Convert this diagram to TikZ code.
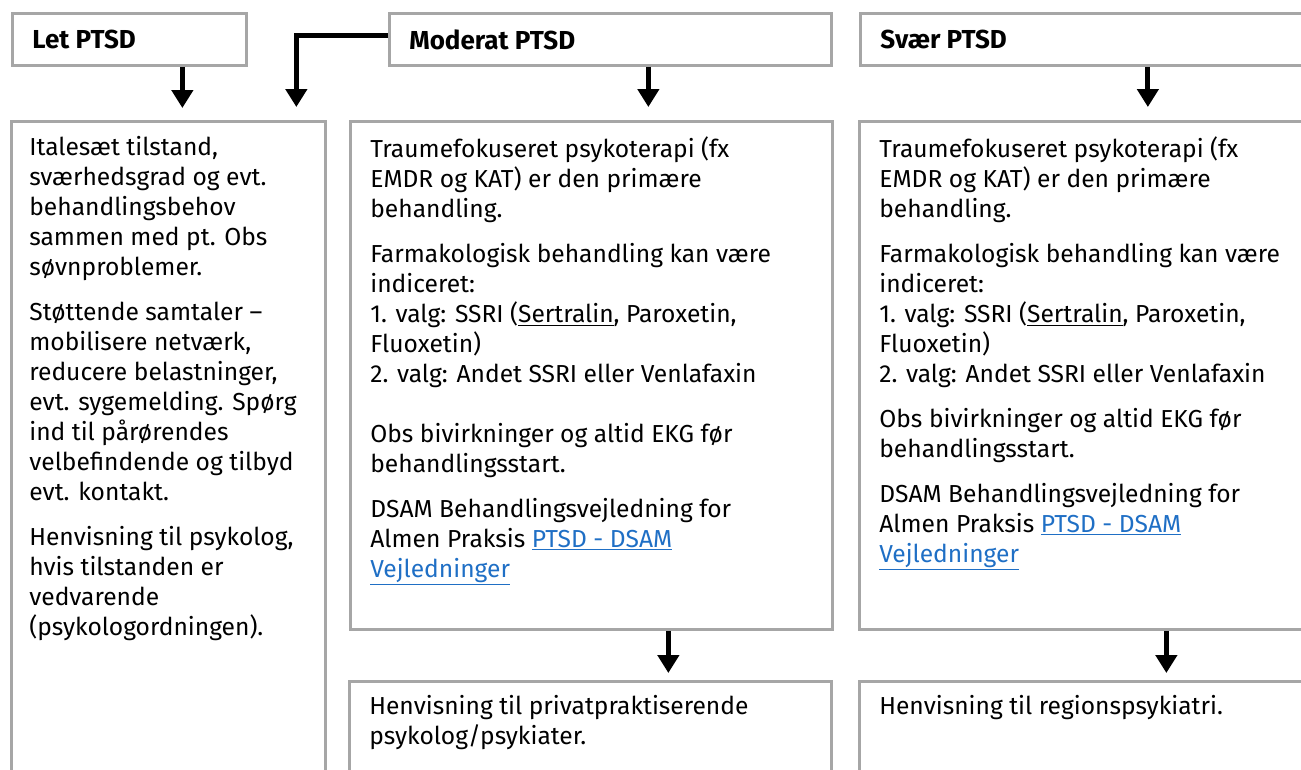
\documentclass[tikz,border=0pt]{standalone}
\usepackage{fontspec}
\setmainfont{Fira Sans}
\usetikzlibrary{arrows.meta,positioning}
\definecolor{frame}{HTML}{A6A6A6}
\definecolor{weblink}{HTML}{1F6FC5}
\newcommand{\px}{0.02cm}
\newcommand{\bodysize}{\fontsize{14}{17.07}\selectfont}
\newcommand{\headsize}{\fontsize{14.8}{17.07}\selectfont\bfseries}
\newcommand{\weblinktxt}[1]{\textcolor{weblink}{\underline{#1}}}
\tikzset{
  >={Triangle[length=3.6mm,width=4.2mm]},
  flow/.style={->,line width=1mm,draw=black},
  box/.style={draw=frame,line width=0.55mm,anchor=north west,inner sep=0pt},
  headtxt/.style={inner sep=0pt,font=\headsize},
  bodytxt/.style={inner sep=0pt,align=left,font=\bodysize}
}
\begin{document}
\begin{tikzpicture}[x=\px,y=-\px]
  \path[use as bounding box,clip] (0,0) rectangle (1301,769);
  % top row
  \node[box,minimum width=234*\px,minimum height=52*\px] (let) at (11,12) {};
  \node[box,minimum width=442*\px,minimum height=52*\px] (mod) at (388,12) {};
  \node[box,minimum width=452*\px,minimum height=52*\px] (svr) at (859,12) {};
  \node[headtxt,right=21*\px of let.west] (letT) {Let PTSD};
  \node[headtxt,right=21*\px of mod.west] (modT) {Moderat PTSD};
  \node[headtxt,right=21*\px of svr.west] (svrT) {Svær PTSD};
  % middle row
  \node[box,minimum width=314*\px,minimum height=680*\px] (b1) at (10,120) {};
  \node[box,minimum width=482*\px,minimum height=508*\px] (b2) at (349,120) {};
  \node[box,minimum width=452*\px,minimum height=508*\px] (b3) at (858,120) {};
  \node[bodytxt,below right=16*\px and 19*\px of b1.north west] (b1T) {%
    Italesæt tilstand,\\
    sværhedsgrad og evt.\\
    behandlingsbehov\\
    sammen med pt. Obs\\
    søvnproblemer.\\[0.3cm]
    Støttende samtaler –\\
    mobilisere netværk,\\
    reducere belastninger,\\
    evt. sygemelding. Spørg\\
    ind til pårørendes\\
    velbefindende og tilbyd\\
    evt. kontakt.\\[0.3cm]
    Henvisning til psykolog,\\
    hvis tilstanden er\\
    vedvarende\\
    (psykologordningen).};
  \node[bodytxt,below right=16*\px and 21*\px of b2.north west] (b2T) {%
    Traumefokuseret psykoterapi (fx\\
    EMDR og KAT) er den primære\\
    behandling.\\[0.3cm]
    Farmakologisk behandling kan være\\
    indiceret:\\
    1. valg: SSRI (\underline{Sertralin}, Paroxetin,\\
    Fluoxetin)\\
    2. valg: Andet SSRI eller Venlafaxin\\[0.6cm]
    Obs bivirkninger og altid EKG før\\
    behandlingsstart.\\[0.3cm]
    DSAM Behandlingsvejledning for\\
    Almen Praksis \weblinktxt{PTSD - DSAM}\\
    \weblinktxt{Vejledninger}};
  \node[bodytxt,below right=16*\px and 21*\px of b3.north west] (b3T) {%
    Traumefokuseret psykoterapi (fx\\
    EMDR og KAT) er den primære\\
    behandling.\\[0.3cm]
    Farmakologisk behandling kan være\\
    indiceret:\\
    1. valg: SSRI (\underline{Sertralin}, Paroxetin,\\
    Fluoxetin)\\
    2. valg: Andet SSRI eller Venlafaxin\\[0.3cm]
    Obs bivirkninger og altid EKG før\\
    behandlingsstart.\\[0.3cm]
    DSAM Behandlingsvejledning for\\
    Almen Praksis \weblinktxt{PTSD - DSAM}\\
    \weblinktxt{Vejledninger}};
  % bottom row
  \node[box,minimum width=482*\px,minimum height=120*\px] (c2) at (348,680) {};
  \node[box,minimum width=452*\px,minimum height=120*\px] (c3) at (858,680) {};
  \node[bodytxt,below right=15*\px and 21*\px of c2.north west] (c2T) {%
    Henvisning til privatpraktiserende\\
    psykolog/psykiater.};
  \node[bodytxt,below right=15*\px and 21*\px of c3.north west] (c3T) {%
    Henvisning til regionspsykiatri.};
  % arrows
  \draw[flow,shorten >=0.24cm] ([xshift=1.06cm]let.south) -- ([xshift=1.06cm]let.south |- b1.north);
  \draw[flow,shorten >=0.26cm] ([yshift=0.08cm]mod.west) -| ([xshift=2.56cm]b1.north);
  \draw[flow,shorten >=0.26cm] ([xshift=0.76cm]mod.south) -- ([xshift=0.76cm]mod.south |- b2.north);
  \draw[flow,shorten >=0.26cm] ([xshift=1.23cm]svr.south) -- ([xshift=1.23cm]svr.south |- b3.north);
  \draw[flow,shorten >=0.14cm] ([xshift=1.54cm]b2.south) -- ([xshift=1.54cm]b2.south |- c2.north);
  \draw[flow,shorten >=0.14cm] ([xshift=1.62cm]b3.south) -- ([xshift=1.62cm]b3.south |- c3.north);
\end{tikzpicture}
\end{document}
